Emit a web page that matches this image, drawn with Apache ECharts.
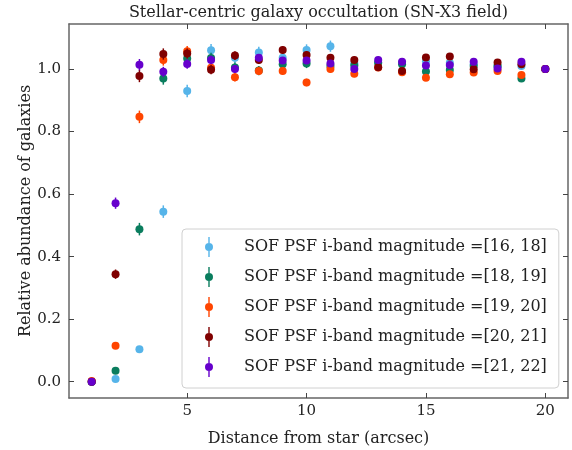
<!DOCTYPE html>
<html>
<head>
<meta charset="utf-8">
<script src="https://cdn.jsdelivr.net/npm/echarts@6/dist/echarts.min.js"></script>
<style>html,body{margin:0;padding:0;background:#fff}#c{width:572px;height:450px}</style>
</head>
<body>
<div id="c"></div>
<script>
const distances = [1,2,3,4,5,6,7,8,9,10,11,12,13,14,15,16,17,18,19,20];
const xTicks = [5,10,15,20];
const yTicks = [0,0.2,0.4,0.6,0.8,1.0];
const seriesNames = [
  'SOF PSF i-band magnitude =[16, 18]',
  'SOF PSF i-band magnitude =[18, 19]',
  'SOF PSF i-band magnitude =[19, 20]',
  'SOF PSF i-band magnitude =[20, 21]',
  'SOF PSF i-band magnitude =[21, 22]'
];
const mag16_18 = [0.000,0.009,0.104,0.544,0.930,1.060,1.036,1.053,1.036,1.061,1.073,1.018,1.020,1.020,1.025,1.020,1.015,1.010,1.010,1.000];
const mag16_18_err = [0.003,0.006,0.010,0.020,0.020,0.020,0.018,0.018,0.016,0.018,0.018,0.014,0.014,0.014,0.014,0.014,0.014,0.013,0.013,0.0];
const mag18_19 = [0.000,0.035,0.488,0.970,1.034,1.035,1.005,0.995,1.015,1.018,1.010,1.011,1.020,1.015,0.992,0.997,1.010,1.010,0.970,1.000];
const mag18_19_err = [0.002,0.008,0.020,0.020,0.018,0.017,0.016,0.015,0.015,0.015,0.014,0.013,0.013,0.012,0.012,0.012,0.012,0.011,0.011,0.0];
const mag19_20 = [0.002,0.115,0.847,1.029,1.057,1.004,0.974,0.994,0.994,0.957,1.000,0.985,1.005,0.990,0.972,0.983,0.989,0.994,0.981,1.000];
const mag19_20_err = [0.002,0.006,0.020,0.018,0.017,0.015,0.014,0.013,0.012,0.012,0.012,0.011,0.011,0.010,0.010,0.010,0.010,0.009,0.009,0.0];
const mag20_21 = [0.000,0.344,0.978,1.048,1.050,0.998,1.043,1.029,1.061,1.045,1.036,1.029,1.006,0.994,1.037,1.040,0.999,1.021,1.015,1.000];
const mag20_21_err = [0.002,0.015,0.020,0.018,0.016,0.015,0.014,0.013,0.012,0.012,0.011,0.011,0.010,0.010,0.010,0.010,0.009,0.009,0.009,0.0];
const mag21_22 = [0.000,0.571,1.014,0.991,1.016,1.029,1.000,1.036,1.027,1.027,1.018,1.000,1.029,1.023,1.011,1.013,1.023,1.002,1.023,1.000];
const mag21_22_err = [0.002,0.018,0.018,0.016,0.015,0.014,0.013,0.012,0.011,0.011,0.010,0.010,0.010,0.009,0.009,0.009,0.009,0.008,0.008,0.0];
const colors = ['#56B4E9','#0A7D5E','#FF4500','#800000','#6600CC'];
const allValues = [mag16_18, mag18_19, mag19_20, mag20_21, mag21_22];
const allErrors = [mag16_18_err, mag18_19_err, mag19_20_err, mag20_21_err, mag21_22_err];

const FONT = 'DejaVu Serif';
const icon = 'path://M4.3,0 L5.7,0 L5.7,20 L4.3,20 Z M5,6 A4,4 0 1 1 5,14 A4,4 0 1 1 5,6 Z';

function makeSeries(i) {
  const color = colors[i];
  return {
    type: 'custom',
    name: seriesNames[i],
    itemStyle: { color: color },
    encode: { x: 0, y: 1 },
    data: distances.map((d, k) => [d, allValues[i][k], allErrors[i][k]]),
    z: 2 + i,
    renderItem: function (params, api) {
      const x = api.value(0), y = api.value(1), e = api.value(2);
      const p = api.coord([x, y]);
      const lo = api.coord([x, y - e]);
      const hi = api.coord([x, y + e]);
      return {
        type: 'group',
        children: [
          { type: 'line', shape: { x1: p[0], y1: lo[1], x2: p[0], y2: hi[1] }, style: { stroke: color, lineWidth: 1.5 } },
          { type: 'circle', shape: { cx: p[0], cy: p[1], r: 4 }, style: { fill: color } }
        ]
      };
    }
  };
}

const frameColor = '#666';
const tickStyle = { show: true, inside: true, length: 5, lineStyle: { color: '#444', width: 1 } };

const chart = echarts.init(document.getElementById('c'), null, { renderer: 'canvas' });
chart.setOption({
  animation: false,
  backgroundColor: '#fff',
  textStyle: { fontFamily: FONT },
  title: {
    text: 'Stellar-centric galaxy occultation (SN-X3 field)',
    left: 318.5, top: 5, padding: 0, textAlign: 'center',
    textStyle: { fontFamily: FONT, fontSize: 16, fontWeight: 'normal', color: '#222' }
  },
  grid: { left: 69, right: 4, top: 24, bottom: 52, containLabel: false, outerBoundsMode: 'none' },
  legend: {
    orient: 'vertical',
    left: 182, top: 229,
    padding: [8, 12, 11, 23],
    itemWidth: 8, itemHeight: 20, itemGap: 10,
    backgroundColor: 'rgba(255,255,255,0.85)',
    borderColor: '#d0d0d0', borderWidth: 1, borderRadius: 4,
    textStyle: { fontFamily: FONT, fontSize: 16, color: '#222', padding: [0, 0, 0, 26] },
    data: seriesNames.map(n => ({ name: n, icon: icon }))
  },
  xAxis: [
    {
      type: 'value', min: 0.05, max: 20.95, position: 'bottom',
      name: 'Distance from star (arcsec)', nameLocation: 'middle', nameGap: 33,
      nameTextStyle: { fontFamily: FONT, fontSize: 16, color: '#222' },
      axisLine: { show: true, onZero: false, lineStyle: { color: frameColor, width: 1.5 } },
      axisTick: Object.assign({ customValues: xTicks }, tickStyle),
      axisLabel: { customValues: xTicks, margin: 6, fontFamily: FONT, fontSize: 15, color: '#222' },
      splitLine: { show: false }
    },
    {
      type: 'value', min: 0.05, max: 20.95, position: 'top',
      axisLine: { show: true, onZero: false, lineStyle: { color: frameColor, width: 1.5 } },
      axisTick: Object.assign({ customValues: xTicks }, tickStyle),
      axisLabel: { show: false },
      splitLine: { show: false }
    }
  ],
  yAxis: [
    {
      type: 'value', min: -0.052, max: 1.144, position: 'left',
      name: 'Relative abundance of galaxies', nameLocation: 'middle', nameGap: 35,
      nameMoveOverlap: false,
      nameTextStyle: { fontFamily: FONT, fontSize: 16, color: '#222' },
      axisLine: { show: true, onZero: false, lineStyle: { color: frameColor, width: 1.5 } },
      axisTick: Object.assign({ customValues: yTicks }, tickStyle),
      axisLabel: { customValues: yTicks, margin: 8, fontFamily: FONT, fontSize: 15, color: '#222',
        formatter: v => v.toFixed(1) },
      splitLine: { show: false }
    },
    {
      type: 'value', min: -0.052, max: 1.144, position: 'right',
      axisLine: { show: true, onZero: false, lineStyle: { color: frameColor, width: 1.5 } },
      axisTick: Object.assign({ customValues: yTicks }, tickStyle),
      axisLabel: { show: false },
      splitLine: { show: false }
    }
  ],
  series: [0, 1, 2, 3, 4].map(makeSeries)
});
</script>
</body>
</html>
